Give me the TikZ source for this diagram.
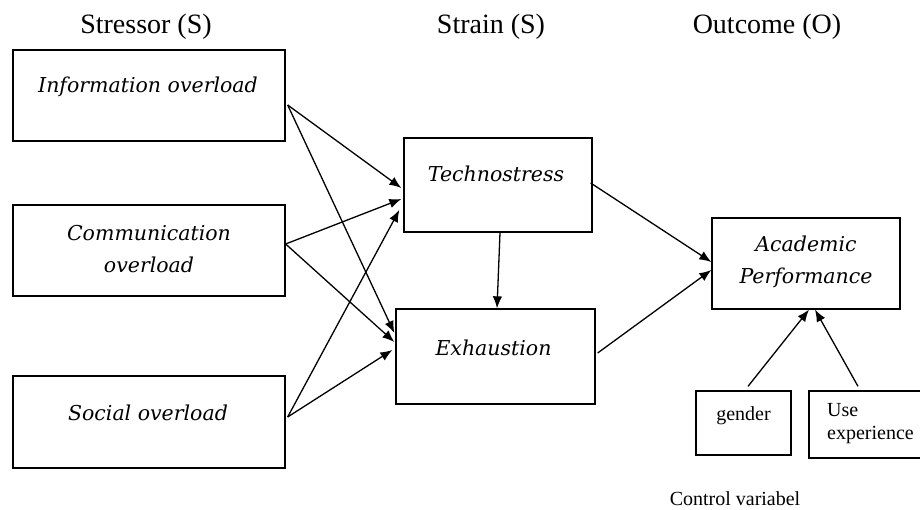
\documentclass[tikz,border=0pt]{standalone}
\usepackage{fontspec}
\setmainfont{Liberation Serif}
\newfontfamily\boxfont{DejaVu Serif}
\usetikzlibrary{arrows.meta,calc}

\begin{document}
\begin{tikzpicture}[x=1pt,y=-1pt,
  box/.style={draw, line width=1.3pt, inner sep=0pt, rectangle},
  head/.style={font=\fontsize{28}{30}\selectfont, anchor=base, inner sep=0pt},
  lbl/.style={font=\boxfont\itshape\fontsize{20.5}{32}\selectfont, inner sep=0pt, align=center},
  small/.style={font=\fontsize{20}{23}\selectfont, inner sep=0pt},
  link/.style={line width=1.3pt, -{Latex[length=12pt,width=9.5pt]}}]

\useasboundingbox (0,0) rectangle (920,510);
\clip (0,0) rectangle (920,510);

% column headings
\node[head] (hS)  at (146,34) {Stressor (S)};
\node[head] (hSt) at (491,34) {Strain (S)};
\node[head] (hO)  at (767,34) {Outcome (O)};

% stressors
\node[box, minimum width=272pt, minimum height=91pt] (info)   at (149,95.5) {};
\node[box, minimum width=272pt, minimum height=91pt] (comm)   at (149,250.5) {};
\node[box, minimum width=272pt, minimum height=92pt] (social) at (149,422) {};
\node[lbl, anchor=base] (tinfo) at (148,93) {Information overload};
\node[lbl] (tcomm) at (149,249) {Communication\\overload};
\node[lbl, anchor=base] (tsocial) at (148,420) {Social overload};

% strains
\node[box, minimum width=188pt, minimum height=94pt] (tech) at (498,185) {};
\node[box, minimum width=199pt, minimum height=95pt] (exh)  at (495.5,356.5) {};
\node[lbl, anchor=base] (ttech) at (496,182) {Technostress};
\node[lbl, anchor=base] (texh)  at (493.5,355) {Exhaustion};

% outcome
\node[box, minimum width=188pt, minimum height=91pt] (acad) at (806,263.5) {};
\node[lbl] (tacad) at (806,262) {Academic\\Performance};

% control variables
\node[box, minimum width=95pt, minimum height=64pt] (gender) at (743.5,423) {};
\node[box, minimum width=113pt, minimum height=67pt] (useexp) at (865.5,424.5) {};
\node[small, anchor=base] (tgender) at (743.5,420) {gender};
\node[small, anchor=base west] (tuse) at (827,416) {Use};
\node[small, anchor=base west] (texp) at (827,439) {experience};
\node[small, anchor=base] (tctrl) at (735,505) {Control variabel};

% stressor -> strain paths
\draw[link] ($(info.east)+(2,9.5)$)    -- ($(tech.west)+(-2,3)$);
\draw[link] ($(info.east)+(2,9.5)$)    -- ($(exh.west)+(-1,-23.5)$);
\draw[link] ($(comm.east)+(0,-6.5)$)   -- ($(tech.west)+(-2,14)$);
\draw[link] ($(comm.east)+(0,-6.5)$)   -- ($(exh.west)+(-1,-14.5)$);
\draw[link] ($(social.east)+(2,-5)$)   -- ($(tech.west)+(-4,25)$);
\draw[link] ($(social.east)+(2,-5)$)   -- ($(exh.west)+(-3,-6.5)$);

% strain -> strain and strain -> outcome
\draw[link] ($(tech.south)+(2,0)$)     -- ($(exh.north)+(1.5,0)$);
\draw[link] ($(tech.east)+(-2,-2)$)    -- ($(acad.west)+(0,-1.5)$);
\draw[link] ($(exh.east)+(2,-3.5)$)    -- ($(acad.west)+(0,6.5)$);

% control variables -> outcome
\draw[link] ($(gender.north)+(4.5,-4)$) -- ($(acad.south)+(3,0)$);
\draw[link] ($(useexp.north)+(-7.5,-4)$) -- ($(acad.south)+(9,0)$);
\end{tikzpicture}
\end{document}
